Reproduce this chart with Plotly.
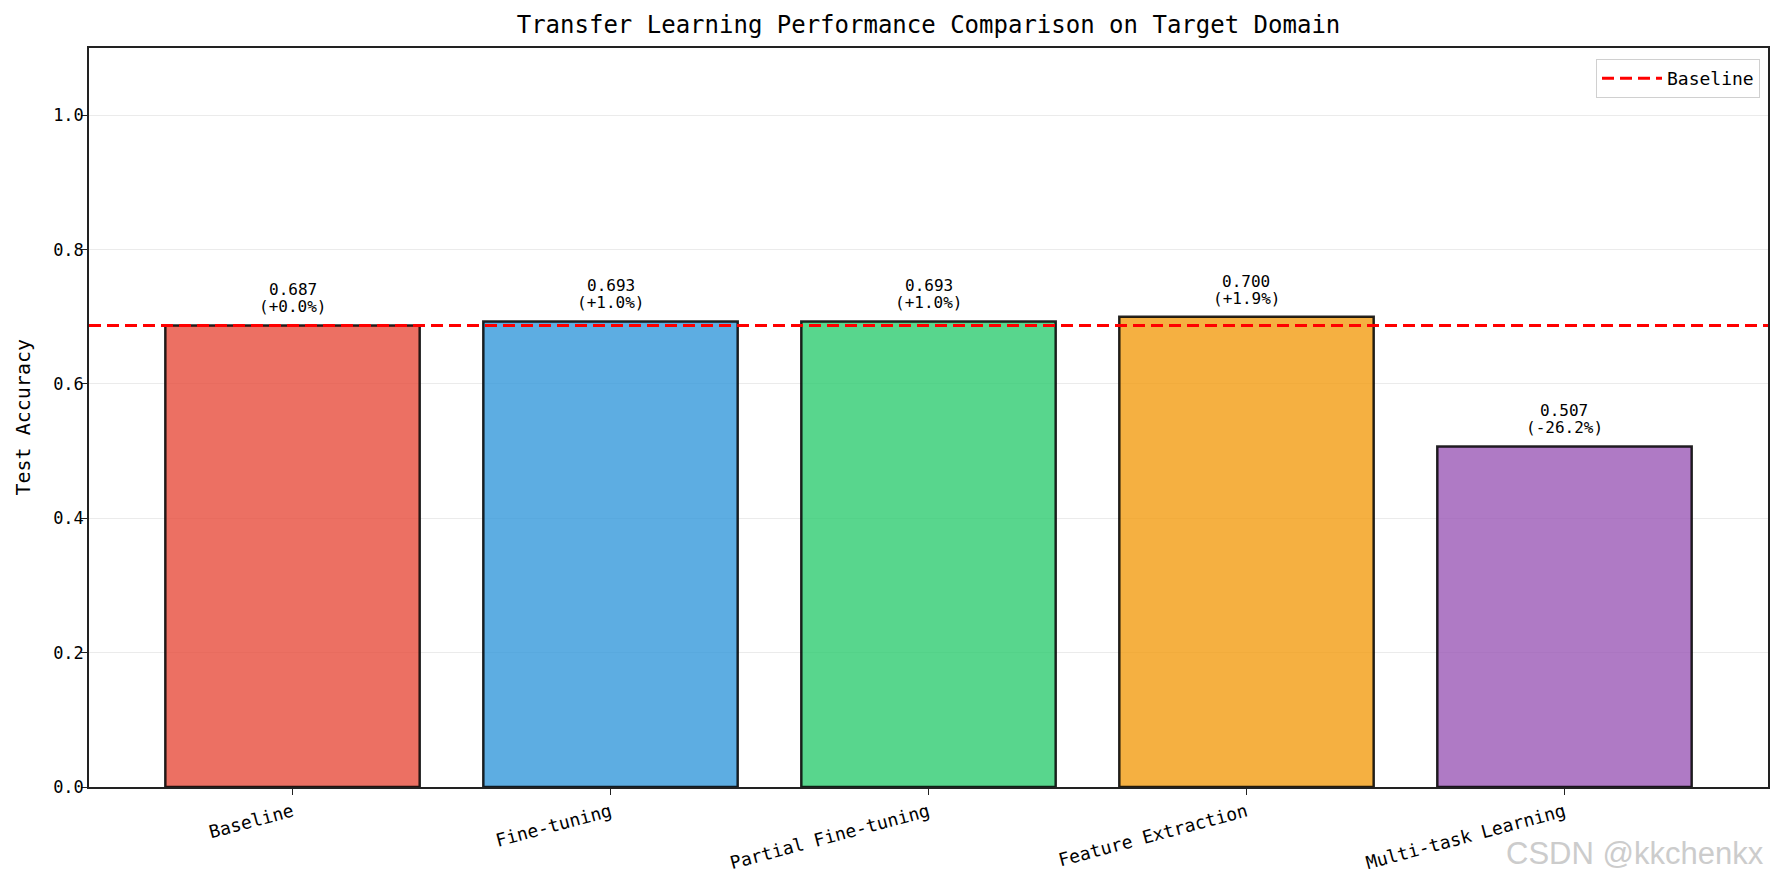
import plotly.graph_objects as go

methods = ["Baseline", "Fine-tuning", "Partial Fine-tuning", "Feature Extraction", "Multi-task Learning"]
accuracy = [0.687, 0.693, 0.693, 0.700, 0.507]
pct_labels = ["+0.0%", "+1.0%", "+1.0%", "+1.9%", "-26.2%"]
baseline_acc = 0.687
colors = ["rgba(231,76,60,0.8)", "rgba(52,152,219,0.8)", "rgba(46,204,113,0.8)",
          "rgba(243,156,18,0.8)", "rgba(155,89,182,0.8)"]
y_ticks = [0.0, 0.2, 0.4, 0.6, 0.8, 1.0]

FONT = "DejaVu Sans Mono"
W, H = 1785, 886
L, R, T, B = 89, 17, 48, 99
plot_w = W - L - R
plot_h = H - T - B
xpos = list(range(len(methods)))
x_range = [-0.64, len(methods) - 1 + 0.64]

fig = go.Figure()
fig.add_trace(go.Bar(
    x=xpos, y=accuracy, width=0.8,
    marker=dict(color=colors, line=dict(color="rgba(0,0,0,0.85)", width=2.5)),
    showlegend=False, hoverinfo="skip",
))
fig.add_trace(go.Scatter(
    x=x_range, y=[baseline_acc, baseline_acc], mode="lines",
    line=dict(color="red", width=3, dash="12px,6px"),
    name="Baseline", showlegend=True, hoverinfo="skip",
))

for xi, v, p in zip(xpos, accuracy, pct_labels):
    fig.add_annotation(
        x=xi, y=v, xref="x", yref="y", yshift=7,
        text=f"({p})", showarrow=False, yanchor="bottom", xanchor="center",
        font=dict(family=FONT, size=16, color="black"),
    )
    fig.add_annotation(
        x=xi, y=v, xref="x", yref="y", yshift=24,
        text=f"{v:.3f}", showarrow=False, yanchor="bottom", xanchor="center",
        font=dict(family=FONT, size=16, color="black"),
    )

fig.add_annotation(
    x=(22 - L) / plot_w, y=0.5, xref="paper", yref="paper",
    text="Test Accuracy", textangle=-90, showarrow=False,
    xanchor="center", yanchor="middle",
    font=dict(family=FONT, size=20, color="black"),
)
fig.add_annotation(
    x=(1766 - L) / plot_w, y=(H - B - 853) / plot_h, xref="paper", yref="paper",
    text="CSDN @kkchenkx", showarrow=False, xanchor="right", yanchor="middle",
    font=dict(family="Liberation Sans", size=31, color="#cccccc"),
)

fig.update_layout(
    width=W, height=H,
    margin=dict(l=L, r=R, t=T, b=B, autoexpand=False),
    paper_bgcolor="white", plot_bgcolor="white",
    title=dict(text="Transfer Learning Performance Comparison on Target Domain",
               x=0.5, xref="paper", y=1 - 25 / H, yref="container",
               xanchor="center", yanchor="middle",
               font=dict(family=FONT, size=24, color="black")),
    legend=dict(x=1 - 8 / plot_w, y=1 - 11 / plot_h, xanchor="right", yanchor="top",
                bordercolor="#d0d0d0", borderwidth=1, bgcolor="white",
                itemwidth=60,
                font=dict(family=FONT, size=18, color="black")),
    bargap=0.2,
)
fig.update_xaxes(
    range=x_range, tickmode="array", tickvals=xpos, ticktext=methods, tickangle=-15,
    showline=True, linecolor="#222222", linewidth=1.5, mirror=True,
    ticks="outside", ticklen=6, tickcolor="#222222", showgrid=False, zeroline=False,
    tickfont=dict(family=FONT, size=18, color="black"),
)
fig.update_yaxes(
    range=[0, 1.1], tickmode="array", tickvals=y_ticks, tickformat=".1f",
    showline=True, linecolor="#222222", linewidth=1.5, mirror=True,
    ticks="outside", ticklen=6, tickcolor="#222222", ticklabelstandoff=-6,
    showgrid=True, gridcolor="#ebebeb", gridwidth=1, zeroline=False,
    tickfont=dict(family=FONT, size=17, color="black"),
)

fig.write_html("out.html")
